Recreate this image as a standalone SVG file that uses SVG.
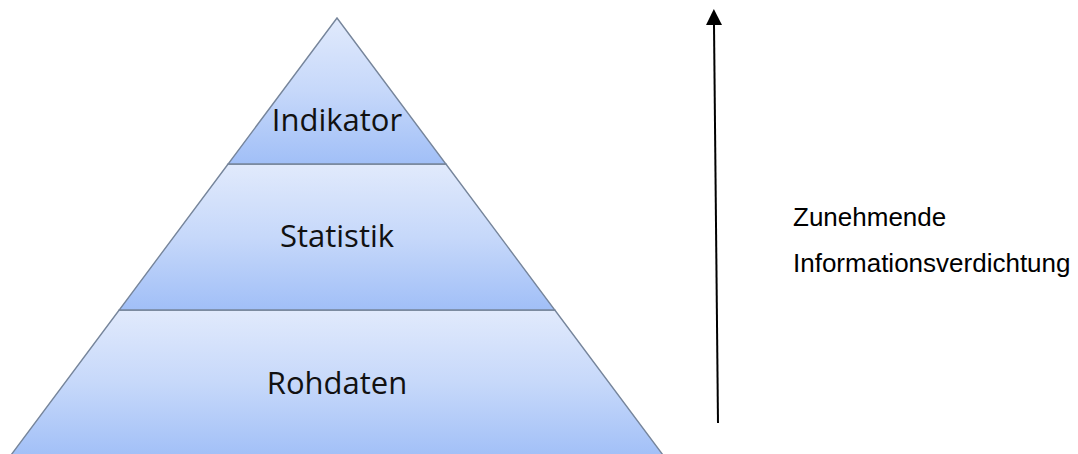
<svg xmlns="http://www.w3.org/2000/svg" width="1078" height="454" viewBox="0 0 1078 454">
  <style>
    .band { stroke: #76859b; stroke-width: 1.4; stroke-linejoin: miter; }
    .lvl { font-family: "Open Sans", "Noto Sans", sans-serif; font-size: 31px; fill: #111111; text-anchor: middle; }
    .note { font-family: "Liberation Sans", Arial, sans-serif; font-size: 26px; fill: #000000; }
    .arrow { stroke: #000000; stroke-width: 2; fill: none; }
  </style>
  <defs>
    <linearGradient id="bandGrad" x1="0" y1="0" x2="0" y2="1">
      <stop offset="0" stop-color="#e1eafc"/>
      <stop offset="0.5" stop-color="#c6d8fa"/>
      <stop offset="1" stop-color="#a1bff7"/>
    </linearGradient>
    <marker id="head" markerUnits="userSpaceOnUse" markerWidth="16" markerHeight="16" viewBox="0 -8 16 16" refX="0" refY="0" orient="auto">
      <path d="M0,-8 L16,0 L0,8 Z" fill="#000000"/>
    </marker>
  </defs>
  <rect width="1078" height="454" fill="#ffffff"/>
  <g id="rohdaten">
    <polygon class="band" fill="url(#bandGrad)" points="119.2,310 554.8,310 665.2,458 8.8,458"/>
    <text class="lvl" x="337" y="394">Rohdaten</text>
  </g>
  <g id="statistik">
    <polygon class="band" fill="url(#bandGrad)" points="228.1,164 445.9,164 554.8,310 119.2,310"/>
    <text class="lvl" x="337" y="247">Statistik</text>
  </g>
  <g id="indikator">
    <polygon class="band" fill="url(#bandGrad)" points="337,18 445.9,164 228.1,164"/>
    <text class="lvl" x="337" y="131">Indikator</text>
  </g>
  <g id="connectors">
    <line class="arrow" x1="718" y1="423" x2="714" y2="25" marker-end="url(#head)"/>
  </g>
  <g id="label">
    <text class="note" x="793" y="226">Zunehmende</text>
    <text class="note" x="793" y="272">Informationsverdichtung</text>
  </g>
</svg>
